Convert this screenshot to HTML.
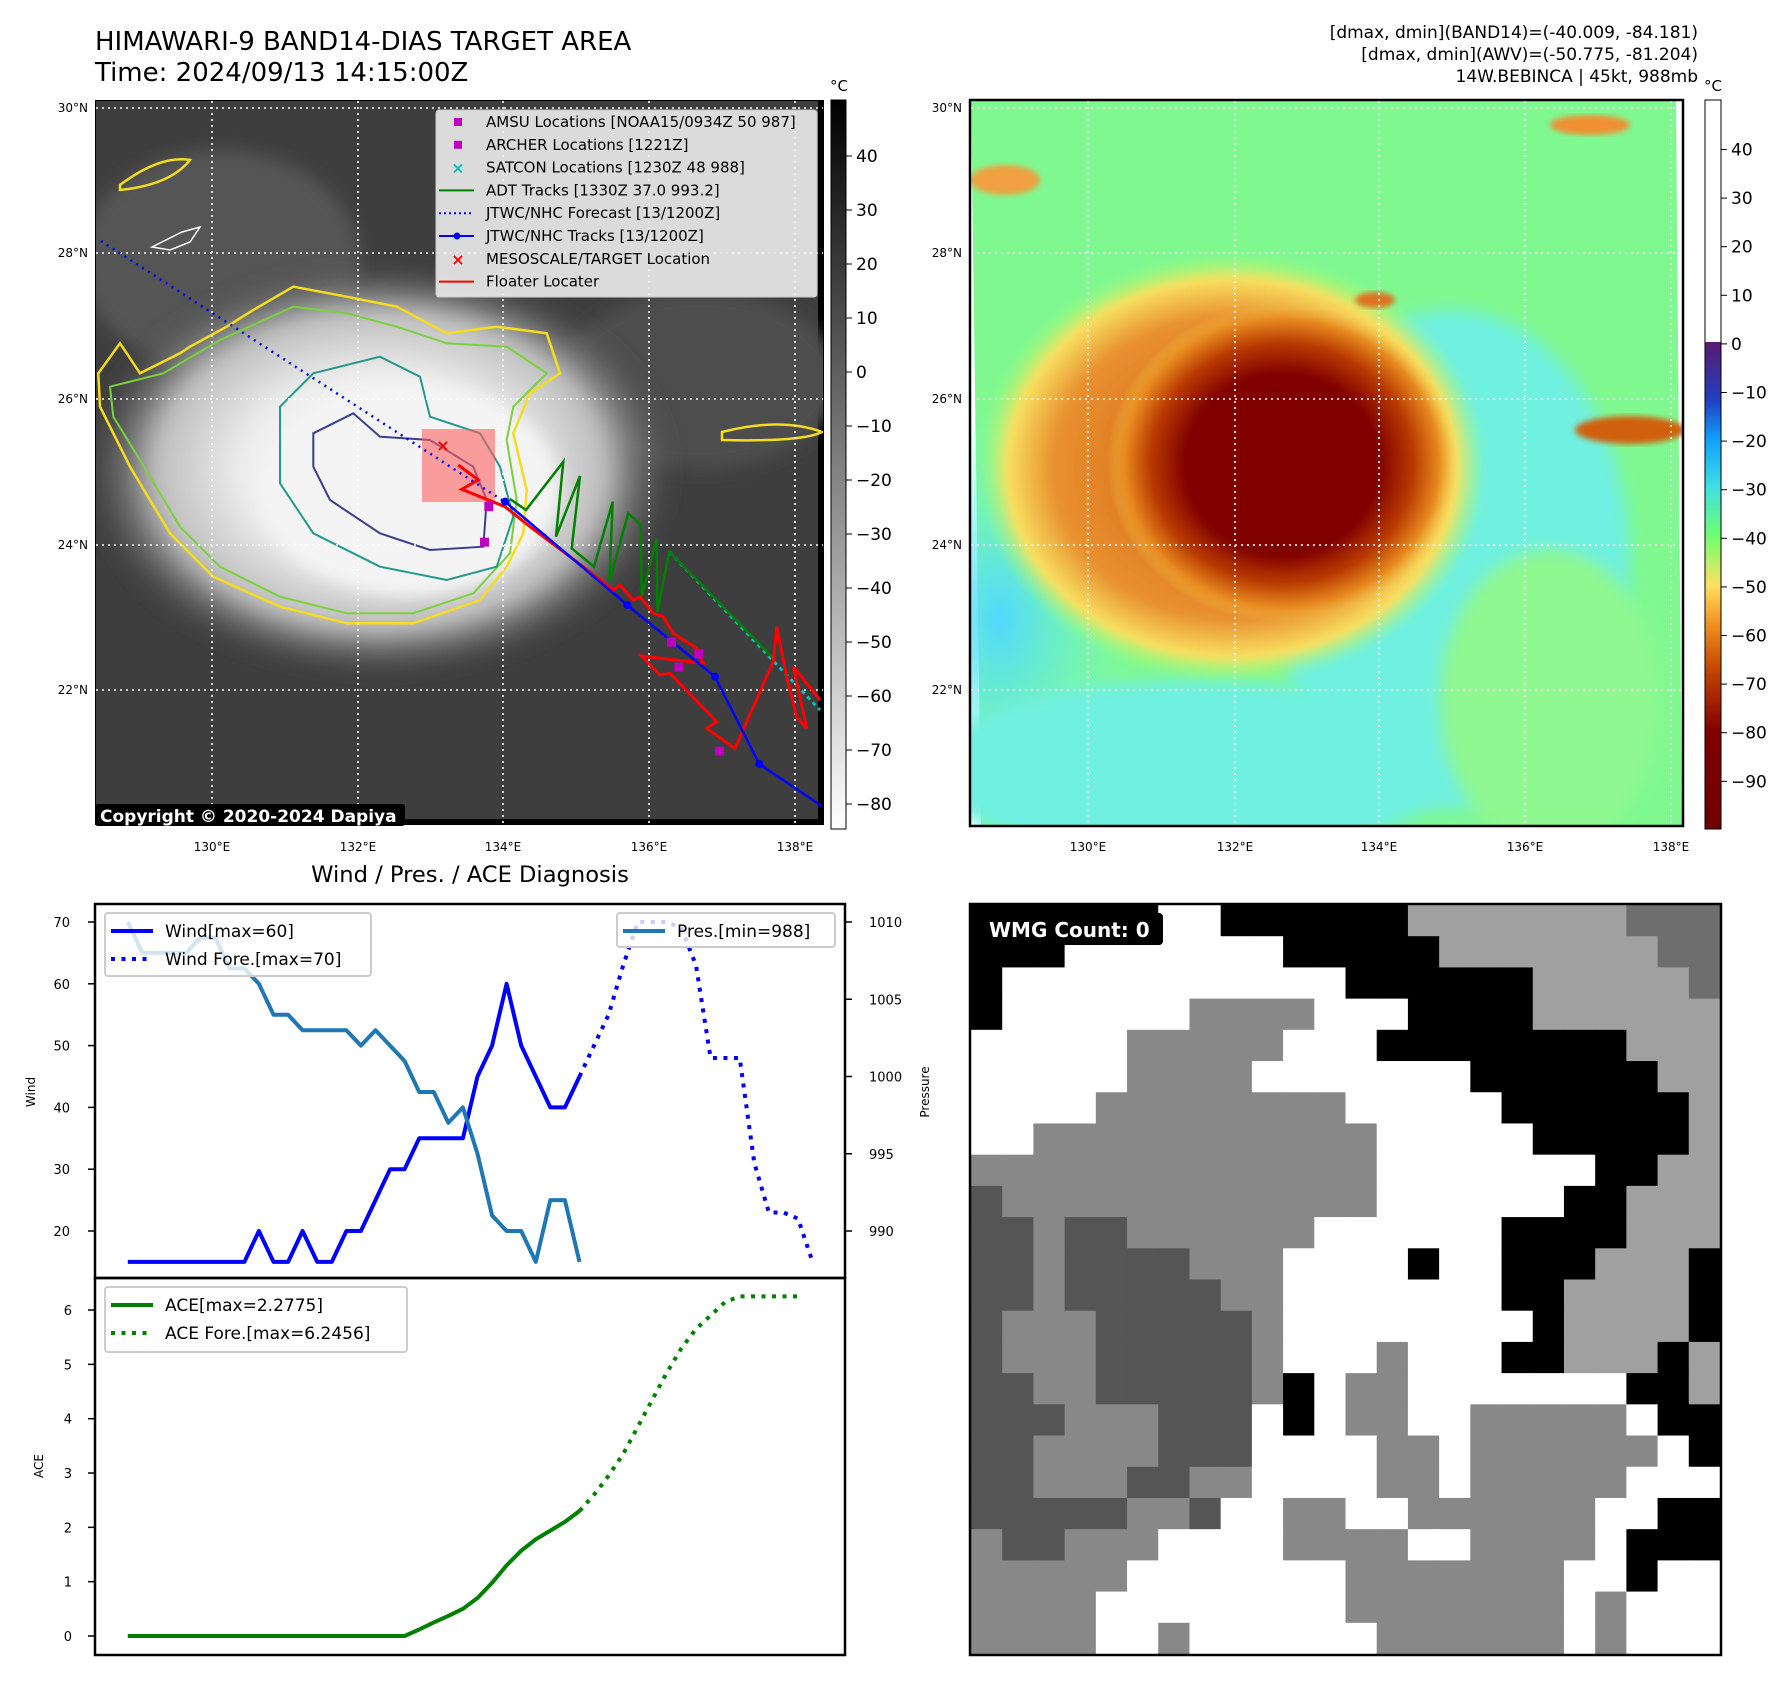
<!DOCTYPE html>
<html><head><meta charset="utf-8">
<style>
html,body{margin:0;padding:0;background:#fff;}
body{width:1788px;height:1690px;position:relative;overflow:hidden;font-family:"Liberation Sans","DejaVu Sans",sans-serif;}
svg{position:absolute;left:0;top:0;}
text{font-family:"DejaVu Sans","Liberation Sans",sans-serif;}
</style></head>
<body>
<svg id="main" width="1788" height="1690" viewBox="0 0 1788 1690">
<defs>
 <radialGradient id="cloud" cx="0.5" cy="0.5" r="0.5">
  <stop offset="0" stop-color="#ffffff"/><stop offset="0.45" stop-color="#eeeeee"/><stop offset="0.75" stop-color="#bdbdbd"/><stop offset="1" stop-color="#4a4a4a" stop-opacity="0"/>
 </radialGradient>
 <radialGradient id="core" cx="0.5" cy="0.5" r="0.5">
  <stop offset="0" stop-color="#800000"/><stop offset="0.55" stop-color="#800000"/><stop offset="0.75" stop-color="#b83a00"/><stop offset="0.9" stop-color="#e88a20"/><stop offset="1" stop-color="#f0c040" stop-opacity="0"/>
 </radialGradient>
 <radialGradient id="band" cx="0.5" cy="0.5" r="0.5">
  <stop offset="0" stop-color="#d06010"/><stop offset="0.7" stop-color="#e89030"/><stop offset="0.88" stop-color="#f8e060"/><stop offset="1" stop-color="#a0ff70" stop-opacity="0"/>
 </radialGradient>
 <radialGradient id="cyanl" cx="0.5" cy="0.5" r="0.5">
  <stop offset="0" stop-color="#50d8ff"/><stop offset="1" stop-color="#70ffd0" stop-opacity="0"/>
 </radialGradient>
 <linearGradient id="cbgray" x1="0" y1="0" x2="0" y2="1">
  <stop offset="0" stop-color="#000"/><stop offset="1" stop-color="#fff"/>
 </linearGradient>
 <linearGradient id="cbcolor" x1="0" y1="0" x2="0" y2="1">
  <stop offset="0" stop-color="#5a1a70"/><stop offset="0.12" stop-color="#2040c0"/><stop offset="0.2" stop-color="#10a0ff"/><stop offset="0.3" stop-color="#40e0e0"/><stop offset="0.4" stop-color="#70ff70"/><stop offset="0.5" stop-color="#ffe060"/><stop offset="0.58" stop-color="#f09020"/><stop offset="0.68" stop-color="#c04000"/><stop offset="0.8" stop-color="#800000"/><stop offset="1" stop-color="#700000"/>
 </linearGradient>
 <clipPath id="clipL"><rect x="96" y="101" width="727" height="723"/></clipPath>
 <clipPath id="clipR"><rect x="971" y="101" width="711" height="724"/></clipPath>
 <filter id="blur8"><feGaussianBlur stdDeviation="8"/></filter>
 <filter id="blur3"><feGaussianBlur stdDeviation="3"/></filter>
</defs>

<text x="95" y="50" font-size="26" fill="#000">HIMAWARI-9 BAND14-DIAS TARGET AREA</text>
<text x="95" y="81" font-size="26" fill="#000">Time: 2024/09/13 14:15:00Z</text>
<g font-size="17" text-anchor="end" fill="#000">
 <text x="1698" y="38">[dmax, dmin](BAND14)=(-40.009, -84.181)</text>
 <text x="1698" y="60">[dmax, dmin](AWV)=(-50.775, -81.204)</text>
 <text x="1698" y="82">14W.BEBINCA | 45kt, 988mb</text>
</g>

<!-- LEFT MAP -->
<g>
 <rect x="95" y="100" width="729" height="725" fill="#000"/>
 <g clip-path="url(#clipL)">
  <rect x="96" y="101" width="722" height="718" fill="#3e3e3e"/>
  <ellipse cx="220" cy="260" rx="140" ry="110" fill="#555" filter="url(#blur8)"/>
  <ellipse cx="700" cy="380" rx="140" ry="90" fill="#4e4e4e" filter="url(#blur8)"/>
  <ellipse cx="380" cy="470" rx="300" ry="210" fill="url(#cloud)" filter="url(#blur8)"/>
  <ellipse cx="410" cy="490" rx="150" ry="105" fill="#f4f4f4" filter="url(#blur8)"/>
  <path id="yel" fill="none" stroke="#f5dc1e" stroke-width="2.5"/>
  <path id="grn" fill="none" stroke="#7ad13c" stroke-width="2"/>
  <path id="teal" fill="none" stroke="#229a8a" stroke-width="2"/>
  <path id="navy" fill="none" stroke="#3a3f8c" stroke-width="2"/>
  <path d="M722,432 q60,-15 100,0 q-20,10 -100,8z" fill="none" stroke="#f5dc1e" stroke-width="2.5"/>
  <path d="M120,185 q40,-30 70,-25 q-20,25 -70,30z" fill="none" stroke="#f5dc1e" stroke-width="2.5"/>
  <path d="M152,247 l30,-15 l18,-5 l-10,15 l-20,8 z" fill="none" stroke="#fff" stroke-width="1.5"/>
  <rect x="422" y="429" width="73" height="73" fill="#ff6060" fill-opacity="0.6"/>
  <g id="gridL" stroke="#fff" stroke-width="1.6" stroke-dasharray="2,4"></g>
  <g id="tracks"></g>
 </g>
 <rect x="95" y="804" width="310" height="22" rx="3" fill="#000"/>
 <text x="100" y="822" font-size="17" font-weight="bold" fill="#fff">Copyright © 2020-2024 Dapiya</text>
</g>
<g id="legendL">
 <rect x="436" y="110" width="381" height="187" rx="3" fill="#e8e8e8" fill-opacity="0.92" stroke="#ccc"/>
</g>
<g id="ticksL" font-size="12" fill="#000"></g>
<rect x="831" y="100" width="15" height="729" fill="url(#cbgray)" stroke="#000" stroke-width="1"/>
<text x="839" y="91" font-size="15" text-anchor="middle">°C</text>
<g id="cbL" font-size="17"></g>

<!-- RIGHT MAP -->
<g>
 <g clip-path="url(#clipR)">
  <polygon points="971,101 1676,101 1682,825 981,825" fill="#80f890"/>
  <ellipse cx="1000" cy="620" rx="140" ry="220" fill="url(#cyanl)"/>
  <ellipse cx="1190" cy="770" rx="260" ry="90" fill="#70f0e0" filter="url(#blur8)"/>
  <ellipse cx="1450" cy="560" rx="180" ry="250" fill="#70f0e0" filter="url(#blur8)"/>
  <ellipse cx="1550" cy="700" rx="110" ry="150" fill="#90f890" filter="url(#blur8)"/>
  <ellipse cx="1232" cy="468" rx="255" ry="215" fill="url(#band)" filter="url(#blur3)"/>
  <ellipse cx="1282" cy="463" rx="175" ry="160" fill="url(#core)"/>
  <ellipse cx="1282" cy="468" rx="90" ry="90" fill="#800000" filter="url(#blur8)"/>
  <ellipse cx="1630" cy="430" rx="55" ry="14" fill="#d06010" filter="url(#blur3)"/>
  <ellipse cx="1005" cy="180" rx="35" ry="15" fill="#f0a040" filter="url(#blur3)"/>
  <ellipse cx="1375" cy="300" rx="20" ry="8" fill="#e07020" filter="url(#blur3)"/>
  <ellipse cx="1590" cy="125" rx="40" ry="10" fill="#f09030" filter="url(#blur3)"/>
  <g id="gridR" stroke="#fff" stroke-width="1.6" stroke-dasharray="2,4"></g>
 </g>
 <rect x="970" y="100" width="713" height="726" fill="none" stroke="#000" stroke-width="2.5"/>
</g>
<g id="ticksR" font-size="12" fill="#000"></g>
<rect x="1705" y="100" width="16" height="242" fill="#fff"/>
<rect x="1705" y="342" width="16" height="487" fill="url(#cbcolor)"/>
<rect x="1705" y="100" width="16" height="729" fill="none" stroke="#000" stroke-width="1"/>
<text x="1713" y="91" font-size="15" text-anchor="middle">°C</text>
<g id="cbR" font-size="17"></g>

<text x="470" y="882" font-size="22.6" text-anchor="middle">Wind / Pres. / ACE Diagnosis</text>
<g id="diag"></g>

<g id="wmg"></g>
</svg>

<script>
// ====== Chart data ======
const windObs = [15,15,15,15,15,15,15,15,15,20,15,15,20,15,15,20,20,25,30,30,35,35,35,35,45,50,60,50,45,40,40,45];
const windFcst = [45,50,55,63,70,70,70,69,63,48,48,48,31,23,23,22,15];
const windFcstStart = 31;
const presObs = [1010,1008,1008,1008,1008,1009,1009,1007,1007,1006,1004,1004,1003,1003,1003,1003,1002,1003,1002,1001,999,999,997,998,995,991,990,990,988,992,992,988];
const aceObs = [0,0,0,0,0,0,0,0,0,0,0,0,0,0,0,0,0,0,0,0,0.12,0.25,0.37,0.5,0.7,0.98,1.3,1.57,1.78,1.94,2.1,2.3];
const aceFcst = [2.3,2.6,2.95,3.35,3.85,4.35,4.85,5.3,5.65,5.9,6.15,6.25,6.25,6.25,6.25,6.25];
const windTicks = [20,30,40,50,60,70];
const presTicks = [990,995,1000,1005,1010];
const aceTicks = [0,1,2,3,4,5,6];
const latTicks = ["30°N","28°N","26°N","24°N","22°N"];
const lonTicks = ["130°E","132°E","134°E","136°E","138°E"];
const cbLTicks = [40,30,20,10,0,-10,-20,-30,-40,-50,-60,-70,-80];
const cbRTicks = [40,30,20,10,0,-10,-20,-30,-40,-50,-60,-70,-80,-90];

const NS='http://www.w3.org/2000/svg';
function mk(tag,attrs,parent){const e=document.createElementNS(NS,tag);for(const k in attrs)e.setAttribute(k,attrs[k]);if(parent)parent.appendChild(e);return e;}
function fmt(v){return String(v).replace('-','\u2212');}

const X0=127.8, DX=14.57;
const xI=i=>X0+i*DX;
const yW=v=>922+(70-v)*6.18;
const yP=p=>922+(1010-p)*15.45;
const yA=a=>1636-a*54.33;

const diag=document.getElementById('diag');
let r=mk('rect',{x:95,y:904,width:750,height:374,fill:'none',stroke:'#000','stroke-width':2.5},diag);


r=mk('rect',{x:95,y:1278,width:750,height:377,fill:'none',stroke:'#000','stroke-width':2.5},diag);



windTicks.forEach(v=>{const y=yW(v);mk('line',{x1:88,x2:95,y1:y,y2:y,stroke:'#000','stroke-width':1.5},diag);
 const t=mk('text',{x:70,y:y+5,'font-size':13,'text-anchor':'end'},diag);t.textContent=v;
 
 });
presTicks.forEach(v=>{const y=yP(v);mk('line',{x1:845,x2:852,y1:y,y2:y,stroke:'#000','stroke-width':1.5},diag);
 const t=mk('text',{x:869,y:y+5,'font-size':13},diag);t.textContent=v;
 
 });
aceTicks.forEach(v=>{const y=yA(v);mk('line',{x1:88,x2:95,y1:y,y2:y,stroke:'#000','stroke-width':1.5},diag);
 const t=mk('text',{x:72,y:y+5,'font-size':13,'text-anchor':'end'},diag);t.textContent=v;
 
 });
let lab=mk('text',{x:35,y:1092,'font-size':12,'text-anchor':'middle',transform:'rotate(-90 35 1092)'},diag);lab.textContent='Wind';


lab=mk('text',{x:929,y:1092,'font-size':12,'text-anchor':'middle',transform:'rotate(-90 929 1092)'},diag);lab.textContent='Pressure';


lab=mk('text',{x:43,y:1466,'font-size':12,'text-anchor':'middle',transform:'rotate(-90 43 1466)'},diag);lab.textContent='ACE';



function poly(vals,off,fy){return vals.map((v,i)=>xI(i+off).toFixed(1)+','+fy(v).toFixed(1)).join(' ');}
let pl;
pl=mk('polyline',{points:poly(windObs,0,yW),fill:'none',stroke:'#0000ff','stroke-width':4,'stroke-linejoin':'round'},diag);


pl=mk('polyline',{points:poly(windFcst,windFcstStart,yW),fill:'none',stroke:'#0000ff','stroke-width':4,'stroke-dasharray':'4,6.5'},diag);


pl=mk('polyline',{points:poly(presObs,0,yP),fill:'none',stroke:'#1f77b4','stroke-width':4,'stroke-linejoin':'round'},diag);


pl=mk('polyline',{points:poly(aceObs,0,yA),fill:'none',stroke:'#008000','stroke-width':4,'stroke-linejoin':'round'},diag);


pl=mk('polyline',{points:poly(aceFcst,windFcstStart,yA),fill:'none',stroke:'#008000','stroke-width':4,'stroke-dasharray':'4,6.5'},diag);



function legend(x,y,w,h,items,name){
 const g=mk('g',{},diag);
 
 
 mk('rect',{x:x,y:y,width:w,height:h,rx:3,fill:'#fff','fill-opacity':0.8,stroke:'#ccc','stroke-width':2},g);
 items.forEach((it,k)=>{const yy=y+18+k*28;
  mk('line',{x1:x+6,x2:x+48,y1:yy,y2:yy,stroke:it.c,'stroke-width':4,'stroke-dasharray':it.d||'none'},g);
  const t=mk('text',{x:x+60,y:yy+6,'font-size':17},g);t.textContent=it.t;});
}
legend(105,913,266,63,[{c:'#0000ff',t:'Wind[max=60]'},{c:'#0000ff',t:'Wind Fore.[max=70]',d:'4,6.5'}],'wind-legend');
legend(617,913,218,34,[{c:'#1f77b4',t:'Pres.[min=988]'}],'pressure-legend');
legend(105,1287,302,65,[{c:'#008000',t:'ACE[max=2.2775]'},{c:'#008000',t:'ACE Fore.[max=6.2456]',d:'4,6.5'}],'ace-legend');

const latY=[108,253,399,545,690];
const lonXL=[212,358,503,649,795];
const lonXR=[1088,1235,1379,1525,1671];
const gL=document.getElementById('gridL'),gR=document.getElementById('gridR');
const tL=document.getElementById('ticksL'),tR=document.getElementById('ticksR');
latY.forEach((y,i)=>{
 mk('line',{x1:96,x2:823,y1:y,y2:y},gL);mk('line',{x1:971,x2:1682,y1:y,y2:y},gR);
 let t=mk('text',{x:88,y:y+4,'text-anchor':'end'},tL);t.textContent=latTicks[i];
 t=mk('text',{x:962,y:y+4,'text-anchor':'end'},tR);t.textContent=latTicks[i];
});
lonXL.forEach((x,i)=>{mk('line',{x1:x,x2:x,y1:101,y2:824},gL);
 const t=mk('text',{x:x,y:851,'text-anchor':'middle'},tL);t.textContent=lonTicks[i];});
lonXR.forEach((x,i)=>{mk('line',{x1:x,x2:x,y1:101,y2:825},gR);
 const t=mk('text',{x:x,y:851,'text-anchor':'middle'},tR);t.textContent=lonTicks[i];});

const cbL=document.getElementById('cbL');
cbLTicks.forEach((v,i)=>{const y=156+i*54;mk('line',{x1:846,x2:852,y1:y,y2:y,stroke:'#000'},cbL);
 const t=mk('text',{x:856,y:y+6},cbL);t.textContent=fmt(v);});
const cbR=document.getElementById('cbR');
cbRTicks.forEach((v,i)=>{const y=149.5+i*48.6;mk('line',{x1:1721,x2:1727,y1:y,y2:y,stroke:'#000'},cbR);
 const t=mk('text',{x:1731,y:y+6},cbR);t.textContent=fmt(v);});

function zp(arr,ox,oy){return 'M'+arr.map(p=>(ox+p[0]/3).toFixed(1)+','+(oy+p[1]/3).toFixed(1)).join(' L')+' Z';}
document.getElementById('yel').setAttribute('d',zp([[55,520],[120,430],[180,520],[300,460],[330,440],[440,380],[520,330],[640,260],[800,290],[950,320],[1100,400],[1250,380],[1400,400],[1440,520],[1350,580],[1300,700],[1340,870],[1330,1000],[1280,1100],[1200,1200],[1000,1270],[800,1270],[600,1220],[400,1130],[270,1000],[150,800],[60,620]],80,200));
document.getElementById('grn').setAttribute('d',zp([[90,560],[250,520],[420,420],[640,320],[800,340],[950,380],[1100,430],[1280,440],[1400,520],[1300,620],[1280,720],[1310,900],[1290,1060],[1180,1180],[1000,1240],[800,1240],[600,1190],[420,1100],[300,980],[180,780],[100,650]],80,200));
document.getElementById('teal').setAttribute('d',zp([[600,620],[700,520],[900,470],[1020,530],[1050,650],[1200,700],[1260,800],[1300,950],[1250,1100],[1100,1140],[900,1100],[700,1000],[600,850]],80,200));
document.getElementById('navy').setAttribute('d',zp([[700,700],[820,640],[900,710],[1050,720],[1180,800],[1220,900],[1210,1040],[1050,1050],[900,1000],[750,900],[700,800]],80,200));

const tr=document.getElementById('tracks');
function zl(arr){return arr.map(p=>(420+p[0]/3).toFixed(1)+','+(400+p[1]/3).toFixed(1)).join(' ');}
mk('polyline',{points:'101,241 505,502',fill:'none',stroke:'#0000ff','stroke-width':2.5,'stroke-dasharray':'2,5'},tr);
mk('polyline',{points:zl([[748,455],[1200,930]]),fill:'none',stroke:'#00c0c0','stroke-width':3,'stroke-dasharray':'4,4'},tr);
mk('polyline',{points:zl([[270,297],[318,330],[430,185],[408,410],[480,228],[455,445],[522,500],[578,305],[568,545],[625,340],[662,375],[665,590],[710,415],[712,635],[748,455],[1065,780]]),fill:'none',stroke:'#008000','stroke-width':2.5},tr);
mk('polyline',{points:zl([[115,195],[175,240],[125,268],[255,320],[330,380],[450,470],[580,570],[600,555],[640,600],[660,590],[700,640],[730,650],[760,700],[790,720],[830,745],[850,790],[665,768],[720,825],[750,820],[890,965],[860,985],[945,1045],[1060,785],[1070,680],[1100,830],[1130,950],[1160,985],[1120,800],[1200,900]]),fill:'none',stroke:'#ff0000','stroke-width':3},tr);
mk('polyline',{points:zl([[255,305],[622,615],[885,830],[1018,1092],[1205,1218]]),fill:'none',stroke:'#0000ff','stroke-width':2.5},tr);
[[255,305],[622,615],[885,830],[1018,1092]].forEach(p=>mk('circle',{cx:420+p[0]/3,cy:400+p[1]/3,r:4,fill:'#0000ff'},tr));
[[205,318],[192,425],[753,725],[835,760],[775,800],[897,1052]].forEach(p=>mk('rect',{x:420+p[0]/3-4,y:400+p[1]/3-4,width:9,height:9,fill:'#c000c0'},tr));
mk('text',{x:443,y:451,'font-size':16,'font-weight':'bold',fill:'#f00','text-anchor':'middle'},tr).textContent='×';

const lg=document.getElementById('legendL');
const li=[['sq','#c000c0','AMSU Locations [NOAA15/0934Z 50 987]'],['sq','#c000c0','ARCHER Locations [1221Z]'],['x','#00c0c0','SATCON Locations [1230Z 48 988]'],['ln','#008000','ADT Tracks [1330Z 37.0 993.2]'],['dot','#0000ff','JTWC/NHC Forecast [13/1200Z]'],['lc','#0000ff','JTWC/NHC Tracks [13/1200Z]'],['x','#ff0000','MESOSCALE/TARGET Location'],['ln','#ff0000','Floater Locater']];
li.forEach((e,k)=>{const y=122+k*22.8;
 if(e[0]==='sq')mk('rect',{x:454,y:y-4,width:8,height:8,fill:e[1]},lg);
 else if(e[0]==='x'){const t=mk('text',{x:458,y:y+6,'font-size':16,'font-weight':'bold',fill:e[1],'text-anchor':'middle'},lg);t.textContent='×';}
 else {mk('line',{x1:439,x2:474,y1:y,y2:y,stroke:e[1],'stroke-width':2,'stroke-dasharray':e[0]==='dot'?'2,3':'none'},lg);
   if(e[0]==='lc')mk('circle',{cx:457,cy:y,r:3.5,fill:e[1]},lg);}
 const t=mk('text',{x:486,y:y+5,'font-size':15},lg);t.textContent=e[2];});

const wmgRows=[
"BBBBBBWWBBBBBBLLLLLLLMMM",
"BBBWWWWWWWBBBBBLLLLLLLMM",
"BWWWWWWWWWWWBBBBBBLLLLLM",
"BWWWWWWGGGGWWWBBBBLLLLLL",
"WWWWWGGGGGWWWBBBBBBBBLLL",
"WWWWWGGGGWWWWWWWBBBBBBLL",
"WWWWGGGGGGGGWWWWWBBBBBBL",
"WWGGGGGGGGGGGWWWWWBBBBBL",
"GGGGGGGGGGGGGWWWWWWWBBLL",
"DGGGGGGGGGGGGWWWWWWBBLLL",
"DDGDDGGGGGGWWWWWWBBBBLLL",
"DDGDDDDGGGWWWWBWWBBBLLLB",
"DDGDDDDDGGWWWWWWWBBLLLLB",
"DGGGDDDDDGWWWWWWWWBLLLLB",
"DGGGDDDDDGWWWGWWWBBLLLBL",
"DDGGDDDDDGBWGGWWWWWWWBBL",
"DDDGGGDDDWBWGGWWGGGGGWBB",
"DDGGGGDDDWWWWGGWGGGGGGWB",
"DDGGGDDGGWWWWGGWGGGGGWWW",
"DDDDDGGDWWGGWWGGGGGGWWBB",
"GDDGGGWWWWGGGGWWGGGGWBBB",
"GGGGGWWWWWWWGGGGGGGWWBWW",
"GGGGWWWWWWWWGGGGGGGWGWWW",
"GGGGWWGWWWWWWGGGGGGWGWWW"];
const wcol={W:'#ffffff',B:'#000000',L:'#a0a0a0',G:'#888888',D:'#555555',M:'#6e6e6e'};
const wg=document.getElementById('wmg');
const WX=971,WY=905,CW=749/24,CH=749/24;
wmgRows.forEach((row,ri)=>{for(let ci=0;ci<24;ci++){
 mk('rect',{x:(WX+ci*CW).toFixed(2),y:(WY+ri*CH).toFixed(2),width:(CW+0.6).toFixed(2),height:(CH+0.6).toFixed(2),fill:wcol[row[ci]]},wg);}});
mk('rect',{x:970,y:904,width:751,height:751,fill:'none',stroke:'#000','stroke-width':2.5},wg);
mk('rect',{x:976,y:913,width:187,height:32,rx:4,fill:'#000'},wg);
const wt=mk('text',{x:989,y:937,'font-size':20,'font-weight':'bold',fill:'#fff'},wg);
wt.textContent='WMG Count: 0';


</script>
</body></html>
